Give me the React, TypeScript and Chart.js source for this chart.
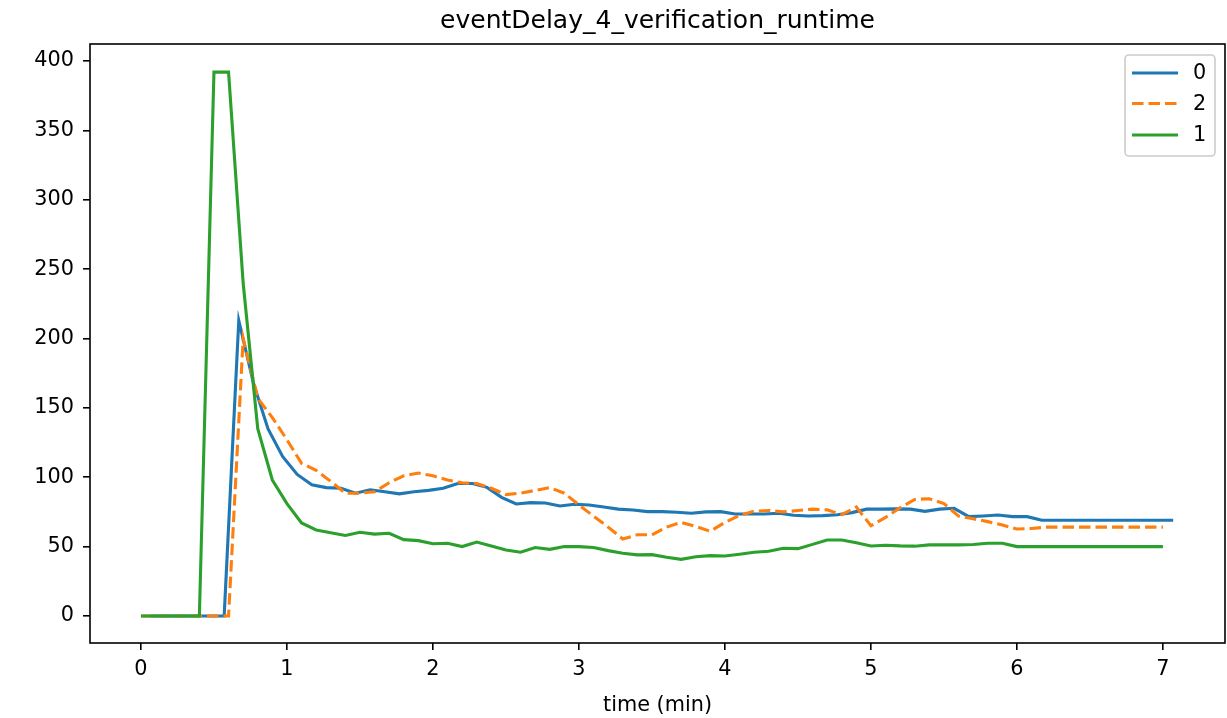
import React, { useEffect, useRef } from "react";
import { Chart, registerables } from "chart.js";

Chart.register(...registerables);

const TITLE = "eventDelay_4_verification_runtime";
const X_LABEL = "time (min)";

const xTicks = [0, 1, 2, 3, 4, 5, 6, 7];
const yTicks = [0, 50, 100, 150, 200, 250, 300, 350, 400];

// series "0" (blue)
const time0 = [
  0.07, 0.17, 0.27, 0.37, 0.47, 0.57, 0.67, 0.77, 0.87, 0.97,
  1.07, 1.17, 1.27, 1.37, 1.47, 1.57, 1.67, 1.77, 1.87, 1.97,
  2.07, 2.17, 2.27, 2.37, 2.47, 2.57, 2.67, 2.77, 2.87, 2.97,
  3.07, 3.17, 3.27, 3.37, 3.47, 3.57, 3.67, 3.77, 3.87, 3.97,
  4.07, 4.17, 4.27, 4.37, 4.47, 4.57, 4.67, 4.77, 4.87, 4.97,
  5.07, 5.17, 5.27, 5.37, 5.47, 5.57, 5.67, 5.77, 5.87, 5.97,
  6.07, 6.17, 6.27, 6.37, 6.47, 6.57, 6.67, 6.77, 6.87, 6.97,
  7.07,
];
const runtime0 = [
  0, 0, 0, 0, 0, 0, 213, 168, 135, 115,
  102, 94.5, 92.5, 92, 88.5, 91, 89.5, 88, 89.5, 90.5,
  92, 95.5, 95.5, 92.7, 85.5, 80.7, 81.7, 81.4, 79.3, 80.5,
  80, 78.5, 77, 76.4, 75.2, 75.2, 74.7, 74, 75, 75.2,
  73.5, 73.5, 73.5, 74, 72.6, 72.1, 72.3, 73, 74.5, 77,
  77, 77.2, 77, 75.4, 77, 77.6, 71.6, 72.1, 72.8, 71.6,
  71.6, 69, 69, 69, 69, 69, 69, 69, 69, 69,
  69,
];

// series "2" (orange, dashed)
const time2 = [
  0.0, 0.1, 0.2, 0.3, 0.4, 0.5, 0.6, 0.7, 0.8, 0.9,
  1.0, 1.1, 1.2, 1.3, 1.4, 1.5, 1.6, 1.7, 1.8, 1.9,
  2.0, 2.1, 2.2, 2.3, 2.4, 2.5, 2.6, 2.7, 2.8, 2.9,
  3.0, 3.1, 3.2, 3.3, 3.4, 3.5, 3.6, 3.7, 3.8, 3.9,
  4.0, 4.1, 4.2, 4.3, 4.4, 4.5, 4.6, 4.7, 4.8, 4.9,
  5.0, 5.1, 5.2, 5.3, 5.4, 5.5, 5.6, 5.7, 5.8, 5.9,
  6.0, 6.1, 6.2, 6.3, 6.4, 6.5, 6.6, 6.7, 6.8, 6.9,
  7.0,
];
const runtime2 = [
  0, 0, 0, 0, 0, 0, 0, 200, 157, 143,
  127, 110, 105, 97, 88.5, 88.5, 89.5, 96, 101, 103,
  101, 98, 96, 95.5, 92, 87.5, 88.5, 90.5, 92.5, 88.5,
  80, 72, 64, 55.5, 58.5, 58.5, 64, 67.5, 64.5, 61,
  67.5, 72.5, 75.5, 76, 75, 76, 77, 76.5, 73, 78.5,
  65, 71, 78, 84, 84.5, 81, 72, 70, 68, 65.5,
  62.7, 63, 64, 64, 64, 64, 64, 64, 64, 64,
  64,
];

// series "1" (green)
const time1 = [
  0.0, 0.1, 0.2, 0.3, 0.4, 0.5, 0.6, 0.7, 0.8, 0.9,
  1.0, 1.1, 1.2, 1.3, 1.4, 1.5, 1.6, 1.7, 1.8, 1.9,
  2.0, 2.1, 2.2, 2.3, 2.4, 2.5, 2.6, 2.7, 2.8, 2.9,
  3.0, 3.1, 3.2, 3.3, 3.4, 3.5, 3.6, 3.7, 3.8, 3.9,
  4.0, 4.1, 4.2, 4.3, 4.4, 4.5, 4.6, 4.7, 4.8, 4.9,
  5.0, 5.1, 5.2, 5.3, 5.4, 5.5, 5.6, 5.7, 5.8, 5.9,
  6.0, 6.1, 6.2, 6.3, 6.4, 6.5, 6.6, 6.7, 6.8, 6.9,
  7.0,
];
const runtime1 = [
  0, 0, 0, 0, 0, 392, 392, 240, 135, 98,
  81, 67, 62, 60, 58, 60.3, 59, 59.6, 55, 54.3,
  52, 52.4, 50, 53.3, 50.4, 47.6, 45.9, 49.3, 48, 50,
  50, 49.4, 47.1, 45.2, 44, 44.2, 42.3, 40.8, 42.7, 43.5,
  43.2, 44.5, 45.9, 46.6, 48.8, 48.5, 51.6, 54.8, 54.8, 52.8,
  50.4, 51, 50.5, 50.3, 51.2, 51.2, 51.2, 51.5, 52.4, 52.4,
  50, 50, 50, 50, 50, 50, 50, 50, 50, 50,
  50,
];

const FONT = "'DejaVu Sans', 'Liberation Sans', sans-serif";
const BLUE = "#1f77b4";
const ORANGE = "#ff7f0e";
const GREEN = "#2ca02c";
const DASH = [11.5, 5];

const legendItems = [
  { label: "0", color: BLUE, dash: [] as number[] },
  { label: "2", color: ORANGE, dash: DASH },
  { label: "1", color: GREEN, dash: [] as number[] },
];

const toPoints = (xs: number[], ys: number[]) => xs.map((x, i) => ({ x, y: ys[i] }));

const framePlugin = {
  id: "mplFrame",
  afterDraw(chart: any) {
    const ctx = chart.ctx as CanvasRenderingContext2D;
    const { left, right, top, bottom } = chart.chartArea;
    ctx.save();
    // spines
    ctx.strokeStyle = "#000";
    ctx.lineWidth = 1.6;
    ctx.setLineDash([]);
    ctx.strokeRect(left, top, right - left, bottom - top);

    // title, centred over the axes
    ctx.fillStyle = "#000";
    ctx.font = `25px ${FONT}`;
    ctx.textAlign = "center";
    ctx.textBaseline = "middle";
    ctx.fillText(TITLE, (left + right) / 2, top - 23);

    // legend box
    const bw = 90;
    const bh = 101;
    const bx = right - 10 - bw;
    const by = top + 11;
    const r = 4;
    ctx.beginPath();
    ctx.moveTo(bx + r, by);
    ctx.lineTo(bx + bw - r, by);
    ctx.arcTo(bx + bw, by, bx + bw, by + r, r);
    ctx.lineTo(bx + bw, by + bh - r);
    ctx.arcTo(bx + bw, by + bh, bx + bw - r, by + bh, r);
    ctx.lineTo(bx + r, by + bh);
    ctx.arcTo(bx, by + bh, bx, by + bh - r, r);
    ctx.lineTo(bx, by + r);
    ctx.arcTo(bx, by, bx + r, by, r);
    ctx.closePath();
    ctx.fillStyle = "rgba(255,255,255,0.8)";
    ctx.fill();
    ctx.strokeStyle = "#cccccc";
    ctx.lineWidth = 1.6;
    ctx.stroke();

    const rowY = [by + 18, by + 48.5, by + 80];
    legendItems.forEach((item, i) => {
      const y = rowY[i];
      ctx.beginPath();
      ctx.setLineDash(item.dash);
      ctx.strokeStyle = item.color;
      ctx.lineWidth = 3.1;
      ctx.lineCap = "butt";
      ctx.moveTo(bx + 7, y);
      ctx.lineTo(bx + 53, y);
      ctx.stroke();
      ctx.setLineDash([]);
      ctx.fillStyle = "#000";
      ctx.font = `20.8px ${FONT}`;
      ctx.textAlign = "left";
      ctx.textBaseline = "middle";
      ctx.fillText(item.label, bx + 68, y + 1);
    });
    ctx.restore();
  },
};

export default function App() {
  const canvasRef = useRef<HTMLCanvasElement | null>(null);

  useEffect(() => {
    const canvas = canvasRef.current;
    if (!canvas) return;
    const chart = new Chart(canvas, {
      type: "line",
      data: {
        datasets: [
          {
            label: "0",
            data: toPoints(time0, runtime0),
            borderColor: BLUE,
            backgroundColor: BLUE,
            borderWidth: 3.1,
            pointRadius: 0,
            tension: 0,
            order: 2,
          },
          {
            label: "2",
            data: toPoints(time2, runtime2),
            borderColor: ORANGE,
            backgroundColor: ORANGE,
            borderWidth: 3.1,
            borderDash: DASH,
            pointRadius: 0,
            tension: 0,
            order: 1,
          },
          {
            label: "1",
            data: toPoints(time1, runtime1),
            borderColor: GREEN,
            backgroundColor: GREEN,
            borderWidth: 3.1,
            pointRadius: 0,
            tension: 0,
            order: 0,
          },
        ],
      },
      options: {
        animation: false,
        responsive: false,
        maintainAspectRatio: false,
        layout: { padding: { left: 0, right: 2, top: 44, bottom: 0 } },
        plugins: {
          legend: { display: false },
          tooltip: { enabled: false },
          title: { display: false },
        },
        scales: {
          x: {
            type: "linear",
            min: -0.349,
            max: 7.425,
            afterBuildTicks: (scale: any) => {
              scale.ticks = xTicks.map((v) => ({ value: v }));
            },
            afterFit: (scale: any) => {
              scale.height = 75;
            },
            grid: {
              drawOnChartArea: false,
              drawTicks: true,
              tickLength: 7,
              color: "#000",
              tickColor: "#000",
              lineWidth: 1.6,
            },
            border: { display: false },
            ticks: {
              color: "#000",
              padding: 7,
              maxRotation: 0,
              autoSkip: false,
              font: { family: FONT, size: 20.8 },
            },
            title: {
              display: true,
              text: X_LABEL,
              color: "#000",
              font: { family: FONT, size: 20.8 },
              padding: { top: 0, bottom: 0 },
            },
          },
          y: {
            type: "linear",
            min: -19.5,
            max: 412.3,
            afterBuildTicks: (scale: any) => {
              scale.ticks = yTicks.map((v) => ({ value: v }));
            },
            afterFit: (scale: any) => {
              scale.width = 90;
            },
            grid: {
              drawOnChartArea: false,
              drawTicks: true,
              tickLength: 7,
              color: "#000",
              tickColor: "#000",
              lineWidth: 1.6,
            },
            border: { display: false },
            ticks: {
              color: "#000",
              padding: 9,
              autoSkip: false,
              font: { family: FONT, size: 20.8 },
            },
          },
        },
      },
      plugins: [framePlugin],
    });
    return () => chart.destroy();
  }, []);

  return (
    <div style={{ position: "absolute", left: 0, top: 0, width: 1227, height: 718, background: "#fff" }}>
      <canvas ref={canvasRef} width={1227} height={718} style={{ display: "block", width: 1227, height: 718 }} />
    </div>
  );
}
